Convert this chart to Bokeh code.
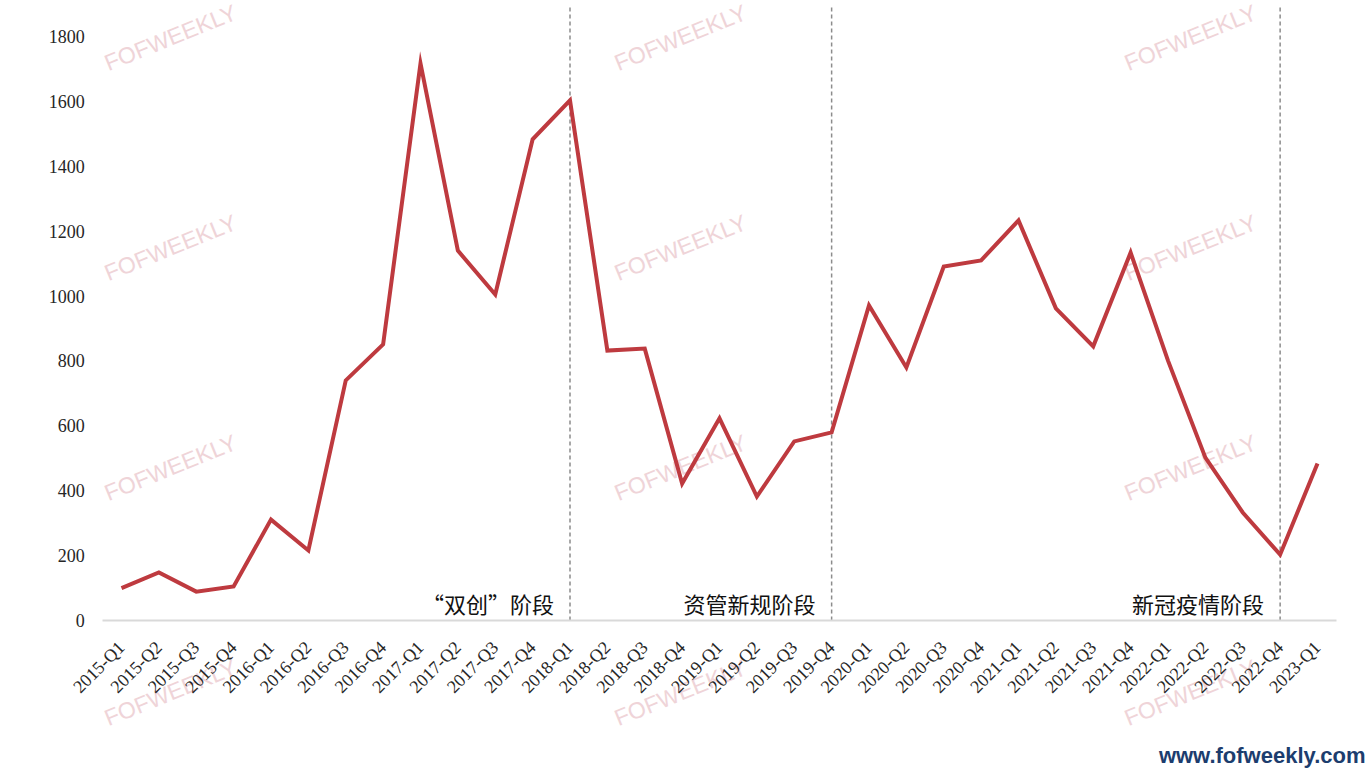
import math
from bokeh.plotting import figure
from bokeh.models import ColumnDataSource, Label, FixedTicker, Range1d
from bokeh.core.properties import value
from bokeh.embed import file_html
from bokeh.resources import INLINE

quarters = [
    "2015-Q1", "2015-Q2", "2015-Q3", "2015-Q4",
    "2016-Q1", "2016-Q2", "2016-Q3", "2016-Q4",
    "2017-Q1", "2017-Q2", "2017-Q3", "2017-Q4",
    "2018-Q1", "2018-Q2", "2018-Q3", "2018-Q4",
    "2019-Q1", "2019-Q2", "2019-Q3", "2019-Q4",
    "2020-Q1", "2020-Q2", "2020-Q3", "2020-Q4",
    "2021-Q1", "2021-Q2", "2021-Q3", "2021-Q4",
    "2022-Q1", "2022-Q2", "2022-Q3", "2022-Q4",
    "2023-Q1",
]
counts = [
    100, 148, 89, 105,
    311, 216, 740, 851,
    1717, 1140, 1005, 1483,
    1603, 832, 838, 422,
    623, 382, 552, 580,
    971, 780, 1091, 1110,
    1233, 962, 845, 1134,
    801, 502, 333, 203,
    484,
]
y_ticks = [0, 200, 400, 600, 800, 1000, 1200, 1400, 1600, 1800]
stage_ends = ["2018-Q1", "2019-Q4", "2022-Q4"]
stage_names = ["\u201c双创\u201d阶段", "资管新规阶段", "新冠疫情阶段"]
stage_label_y = [55, 55, 55]
stage_line_top = 1895

W, H = 1368, 769
# layout geometry (pixels)
step_px = 37.375       # width of one quarter
first_px = 121.0       # centre of the first quarter from the left edge
zero_px = 620.0        # y pixel of value 0 from the top
unit_px = 584.0 / 1800.0

idx = list(range(len(quarters)))

p = figure(
    width=W, height=H,
    x_range=Range1d(-first_px / step_px, (W - first_px) / step_px),
    y_range=Range1d(-(H - zero_px) / unit_px, zero_px / unit_px),
    output_backend="svg", toolbar_location=None,
    min_border_left=0, min_border_right=0, min_border_top=0, min_border_bottom=0,
)
p.outline_line_color = None
p.xgrid.grid_line_color = None
p.ygrid.grid_line_color = None
p.background_fill_color = "white"
p.border_fill_color = "white"

# watermarks (decoration, screen units)
wm_cols = [170, 680, 1190]
wm_rows = [732, 522, 302, 77]
for sx in wm_cols:
    for sy in wm_rows:
        p.add_layout(Label(
            x=sx, y=sy, x_units="screen", y_units="screen",
            text="FOFWEEKLY", text_font="Liberation Sans", text_font_size="23px",
            text_color="#efd4d8", angle=math.radians(22),
            text_align="center", text_baseline="middle", level="underlay",
        ))

# stage boundaries
bx = [quarters.index(q) for q in stage_ends]
p.segment(x0=bx, y0=[0] * len(bx), x1=bx, y1=[stage_line_top] * len(bx),
          line_color="#8c8c8c", line_width=1.5, line_dash="4 3")

src = ColumnDataSource(dict(x=idx, v=counts))
p.line("x", "v", source=src, line_color="#be3a3f", line_width=4, line_join="miter")

lab = ColumnDataSource(dict(x=bx, y=stage_label_y, t=stage_names))
p.text("x", "y", text="t", source=lab, x_offset=-16, text_align="right",
       text_baseline="middle", text_font=value("Noto Sans CJK SC"),
       text_font_size="22px", text_color="#111111")

yax = p.yaxis[0]
yax.fixed_location = -0.5
yax.ticker = FixedTicker(ticks=y_ticks)
yax.axis_line_color = None
yax.major_tick_line_color = None
yax.minor_tick_line_color = None
yax.major_label_standoff = 12
yax.major_label_text_font = "Liberation Serif"
yax.major_label_text_font_size = "18px"
yax.major_label_text_color = "#262626"

xax = p.xaxis[0]
xax.fixed_location = 0
xax.bounds = (-0.5, len(quarters) - 0.5)
xax.ticker = FixedTicker(ticks=idx)
xax.major_label_overrides = {i: q for i, q in zip(idx, quarters)}
xax.axis_line_color = "#d9d9d9"
xax.axis_line_width = 2
xax.major_tick_line_color = None
xax.minor_tick_line_color = None
xax.major_label_orientation = math.pi / 4
xax.major_label_standoff = 18
xax.major_label_text_font = "Liberation Serif"
xax.major_label_text_font_size = "18px"
xax.major_label_text_color = "#262626"

p.add_layout(Label(
    x=W - 3, y=14, x_units="screen", y_units="screen",
    text="www.fofweekly.com", text_font="Liberation Sans", text_font_style="bold",
    text_font_size="22px", text_color="#1c3d6e", text_align="right",
    text_baseline="alphabetic",
))

open("out.html", "w").write(file_html(p, INLINE))
